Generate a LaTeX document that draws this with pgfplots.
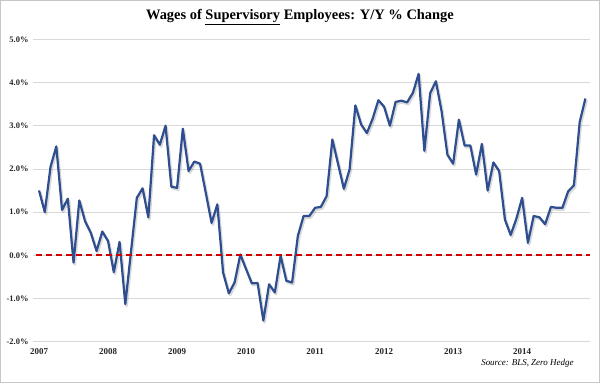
\documentclass[border=0pt]{standalone}
\usepackage{fontspec}
\setmainfont{Liberation Serif}
\usepackage{pgfplots}
\usepackage{pgfplotstable}
\pgfplotsset{compat=1.18}
\definecolor{linecol}{RGB}{46,78,144}
\definecolor{zerored}{RGB}{204,0,0}
\definecolor{gridgray}{RGB}{217,217,217}
\pgfplotstableread{
m  v
0  1.50
1  1.00
2  2.05
3  2.52
4  1.05
5  1.31
6  -0.17
7  1.27
8  0.79
9  0.52
10 0.10
11 0.55
12 0.33
13 -0.39
14 0.31
15 -1.13
16 0.10
17 1.33
18 1.55
19 0.88
20 2.78
21 2.56
22 3.00
23 1.59
24 1.56
25 2.93
26 1.95
27 2.17
28 2.12
29 1.44
30 0.75
31 1.18
32 -0.40
33 -0.88
34 -0.63
35 0.02
36 -0.32
37 -0.65
38 -0.64
39 -1.51
40 -0.67
41 -0.86
42 -0.01
43 -0.59
44 -0.63
45 0.45
46 0.91
47 0.91
48 1.10
49 1.12
50 1.37
51 2.68
52 2.11
53 1.54
54 1.99
55 3.47
56 3.03
57 2.83
58 3.16
59 3.59
60 3.44
61 3.00
62 3.55
63 3.58
64 3.54
65 3.76
66 4.20
67 2.42
68 3.75
69 4.03
70 3.33
71 2.33
72 2.12
73 3.14
74 2.54
75 2.54
76 1.87
77 2.58
78 1.50
79 2.15
80 1.95
81 0.83
82 0.47
83 0.85
84 1.33
85 0.29
86 0.91
87 0.88
88 0.72
89 1.12
90 1.10
91 1.10
92 1.48
93 1.62
94 3.08
95 3.63
}\wagedata
\pgfplotstableread{
m y
-0.5 0
95.8 0
}\zerodata
\begin{document}
\begin{tikzpicture}[x=1bp,y=1bp]
\useasboundingbox (0,0) rectangle (600,383);
\draw[gray!45, line width=0.8bp] (0.4,0.4) rectangle (599.6,382.6);
\node[font=\fontsize{14.5}{16}\selectfont\bfseries] at (300,366) {Wages of \underline{Supervisory} Employees: Y/Y \% Change};
\begin{axis}[
  at={(33bp,41.3bp)}, anchor=south west,
  scale only axis, width=557bp, height=302.4bp,
  xmin=-1.05, xmax=95.8, ymin=-2, ymax=5,
  axis line style={draw=none},
  tick style={draw=none},
  major tick length=0pt,
  ymajorgrids, grid style={gridgray, line width=0.8bp},
  xtick={0,12,24,36,48,60,72,84},
  xticklabels={2007,2008,2009,2010,2011,2012,2013,2014},
  ytick={-2,-1,0,1,2,3,4,5},
  yticklabels={{-2.0\%},{-1.0\%},{0.0\%},{1.0\%},{2.0\%},{3.0\%},{4.0\%},{5.0\%}},
  tick label style={font=\fontsize{8.5}{10}\selectfont\bfseries, text=black!85},
  xticklabel style={anchor=north, yshift=-3bp, font=\fontsize{9}{10}\selectfont\bfseries},
  yticklabel style={anchor=east, xshift=-1bp},
  clip=false,
]
\addplot[draw=black, opacity=0.15, line width=2.6bp, line join=round, xshift=1.2bp, yshift=-1.8bp, forget plot] table[x=m, y=v] {\wagedata};
\addplot[draw=linecol, line width=2.2bp, line join=round, mark=none] table[x=m, y=v] {\wagedata};
\addplot[zerored, line width=1.8bp, dash pattern={on 6bp off 4bp}, mark=none, forget plot] table[x=m, y=y] {\zerodata};
\end{axis}
\node[anchor=east, font=\fontsize{9}{10}\selectfont\itshape] at (577,20) {Source: BLS, Zero Hedge};
\end{tikzpicture}
\end{document}
